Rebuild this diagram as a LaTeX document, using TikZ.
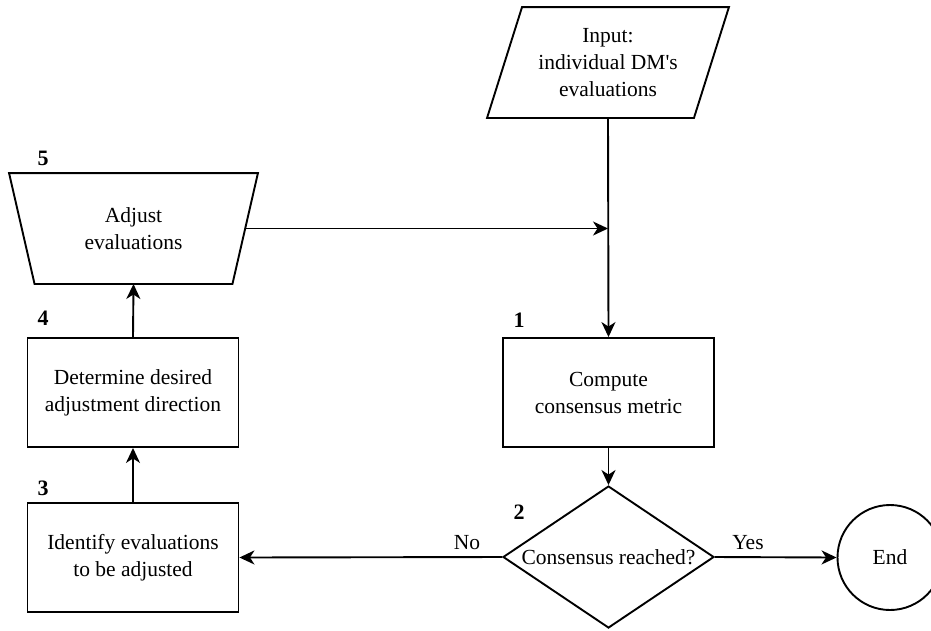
\documentclass[tikz,border=0pt]{standalone}
\usepackage{fontspec}
\setmainfont{Liberation Serif}
\usetikzlibrary{arrows.meta,shapes.geometric,calc}

\begin{document}
\begin{tikzpicture}[x=1pt,y=-1pt,
  line width=1.9pt,
  font=\fontsize{21.5}{27}\selectfont,
  flow/.style={-{Stealth[length=15pt,width=14pt,inset=4.5pt]}},
  box/.style={draw,rectangle,minimum width=211,minimum height=109,align=center,inner sep=0pt},
  txtbox/.style={minimum height=109,align=center,inner sep=0pt},
  stepnum/.style={font=\fontsize{22}{27}\selectfont\bfseries,inner sep=0pt},
  edgelabel/.style={inner sep=0pt,anchor=base}
]
\useasboundingbox (0,0) rectangle (931,630);

% input (parallelogram)
\node[txtbox,minimum width=205] (input) at (608,62.5) {Input:\\individual DM\textquotesingle s\\evaluations};
\draw ([xshift=17.5]input.north west) -- ([xshift=17.5]input.north east)
   -- ([xshift=-17.5]input.south east) -- ([xshift=-17.5]input.south west) -- cycle;

% step 5 (inverted trapezoid)
\node[txtbox,minimum width=221.5] (adjust) at (133.5,228.5) {Adjust\\evaluations};
\draw ([xshift=-12.75]adjust.north west) -- ([xshift=12.75]adjust.north east)
   -- ([xshift=-12.75]adjust.south east) -- ([xshift=12.75]adjust.south west) -- cycle;

% process boxes
\node[box] (compute) at (608.5,392.5) {Compute\\consensus metric};
\node[box] (direction) at (133,392.5) {Determine desired\\adjustment direction};
\node[box] (identify) at (133,557.5) {Identify evaluations\\to be adjusted};

% decision and terminal
\node[draw,diamond,minimum width=211,minimum height=142,aspect=1.486,inner sep=0pt] (decide) at (608.5,557) {Consensus reached?};
\node[draw,circle,minimum size=105,inner sep=0pt] (end) at (890,557.5) {End};

% step numbers
\node[stepnum] (n5) at (43,158) {5};
\node[stepnum] (n4) at (43,318) {4};
\node[stepnum] (n3) at (43,488) {3};
\node[stepnum] (n1) at (519,320) {1};
\node[stepnum] (n2) at (519,512) {2};

% connectors
\coordinate (join) at (input.south |- adjust.east);
\draw[flow] (input.south) -- (compute.north);
\draw[flow] (adjust.east) -- (join);
\draw[flow] (compute.south) -- (decide.north);
\draw[flow] (decide.west) -- (identify.east);
\draw[flow] (decide.east) -- (end.west);
\draw[flow] (identify.north) -- (direction.south);
\draw[flow] (direction.north) -- (adjust.south);

% branch labels
\node[edgelabel] (nolbl) at (467,549) {No};
\node[edgelabel] (yeslbl) at (748,549) {Yes};
\end{tikzpicture}
\end{document}
